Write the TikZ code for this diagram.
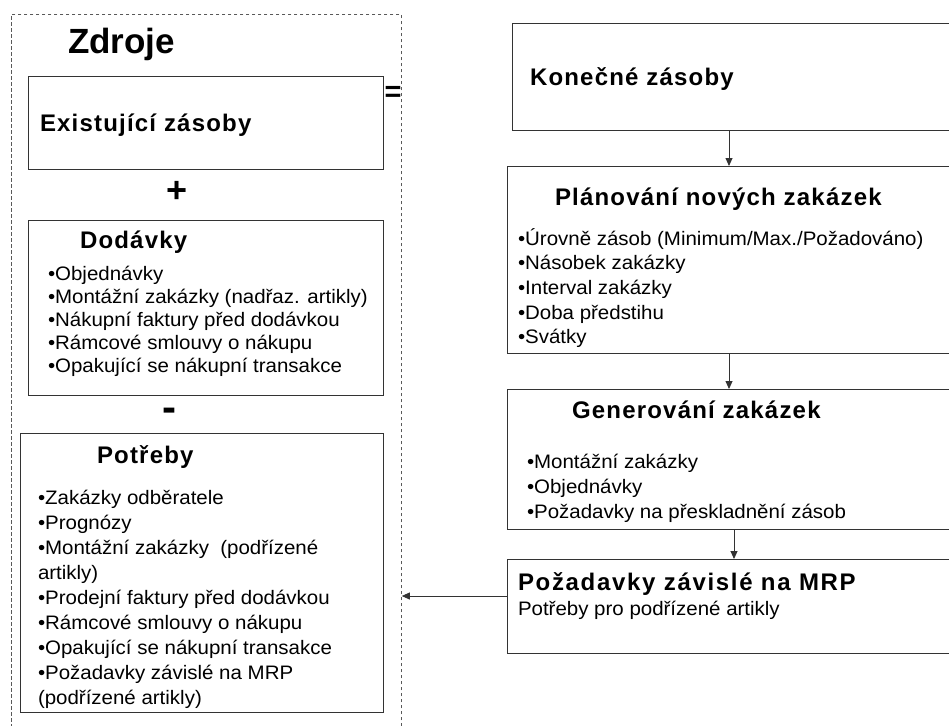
\documentclass[tikz,border=0pt]{standalone}
\usepackage{fontspec}
\setmainfont{Liberation Sans}
\newfontfamily\ttlfont[LetterSpace=5]{Liberation Sans}
\newfontfamily\itmfont[FakeStretch=1.05]{Liberation Sans}
\usetikzlibrary{arrows.meta}

\begin{document}
\begin{tikzpicture}[x=1pt,y=-1pt,
  box/.style={draw=black!80, line width=1pt, anchor=north west, inner sep=0pt, fill=white},
  frame/.style={draw=black!65, line width=0.8pt, dash pattern=on 3.5pt off 2.5pt, anchor=north west, inner sep=0pt},
  txt/.style={anchor=base west, inner sep=0pt, outer sep=0pt},
  ttl/.style={txt, font=\ttlfont\bfseries\fontsize{24}{28}\selectfont},
  itm/.style={txt, font=\itmfont\fontsize{19.5}{24}\selectfont},
  op/.style={inner sep=0pt, font=\bfseries\fontsize{36}{36}\selectfont},
  flow/.style={draw=black!80, line width=0.9pt, -{Triangle[length=8pt,width=7pt]}},
]
\clip (0,0) rectangle (949,725);

% dashed frame around the resources
\node[frame, minimum width=390, minimum height=760] (zdroje) at (11,14) {};
\node[txt, font=\bfseries\fontsize{35}{40}\selectfont] (zdrojettl) at (68,53) {Zdroje};

% left column
\node[box, minimum width=355, minimum height=93] (exist) at (28,76) {};
\node[ttl] (existttl) at (40,131) {Existující zásoby};

\node[op, font=\bfseries\fontsize{29}{29}\selectfont] (eq) at (393,94) {=};
\node[op] (plus) at (177,192) {+};

\node[box, minimum width=355, minimum height=175] (dod) at (28,220) {};
\node[ttl] (dodttl) at (80,248) {Dodávky};
\foreach \t [count=\i from 0] in {%
  •Objednávky,
  •Montážní zakázky (nadřaz. artikly),
  •Nákupní faktury před dodávkou,
  •Rámcové smlouvy o nákupu,
  •Opakující se nákupní transakce}
  \node[itm] (dod-\i) at (48,280.5+23*\i) {\t};

\node[op, font=\bfseries\fontsize{42}{42}\selectfont] (minus) at (169,415) {-};

\node[box, minimum width=363, minimum height=279] (pot) at (20,433) {};
\node[ttl] (potttl) at (97,463) {Potřeby};
\foreach \t [count=\i from 0] in {%
  •Zakázky odběratele,
  •Prognózy,
  •Montážní zakázky \ (podřízené,
  artikly),
  •Prodejní faktury před dodávkou,
  •Rámcové smlouvy o nákupu,
  •Opakující se nákupní transakce,
  •Požadavky závislé na MRP,
  (podřízené artikly)}
  \node[itm] (pot-\i) at (38,504+25*\i) {\t};

% right column
\node[box, minimum width=470, minimum height=107] (kon) at (512,23) {};
\node[ttl] (konttl) at (530,85) {Konečné zásoby};

\node[box, minimum width=470, minimum height=187] (plan) at (507,166) {};
\node[ttl] (planttl) at (555,205) {Plánování nových zakázek};
\foreach \t [count=\i from 0] in {%
  •Úrovně zásob (Minimum/Max./Požadováno),
  •Násobek zakázky,
  •Interval zakázky,
  •Doba předstihu,
  •Svátky}
  \node[itm] (plan-\i) at (518,245+24.7*\i) {\t};

\node[box, minimum width=470, minimum height=140] (gen) at (507,389) {};
\node[ttl] (genttl) at (572,418) {Generování zakázek};
\foreach \t [count=\i from 0] in {%
  •Montážní zakázky,
  •Objednávky,
  •Požadavky na přeskladnění zásob}
  \node[itm] (gen-\i) at (527,468+25*\i) {\t};

\node[box, minimum width=470, minimum height=94] (mrp) at (507,559) {};
\node[ttl, font=\ttlfont\bfseries\fontsize{24}{28}\selectfont\addfontfeature{LetterSpace=7}] (mrpttl) at (518,590) {Požadavky závislé na MRP};
\node[itm] (mrpsub) at (518,615) {Potřeby pro podřízené artikly};

% connectors
\draw[flow] (kon.south -| 729,0) -- (plan.north -| 729,0);
\draw[flow] (plan.south -| 729,0) -- (gen.north -| 729,0);
\draw[flow] (gen.south -| 734,0) -- (mrp.north -| 734,0);
\draw[flow] (mrp.west |- 0,596) -- (zdroje.east |- 0,596);
\end{tikzpicture}
\end{document}
